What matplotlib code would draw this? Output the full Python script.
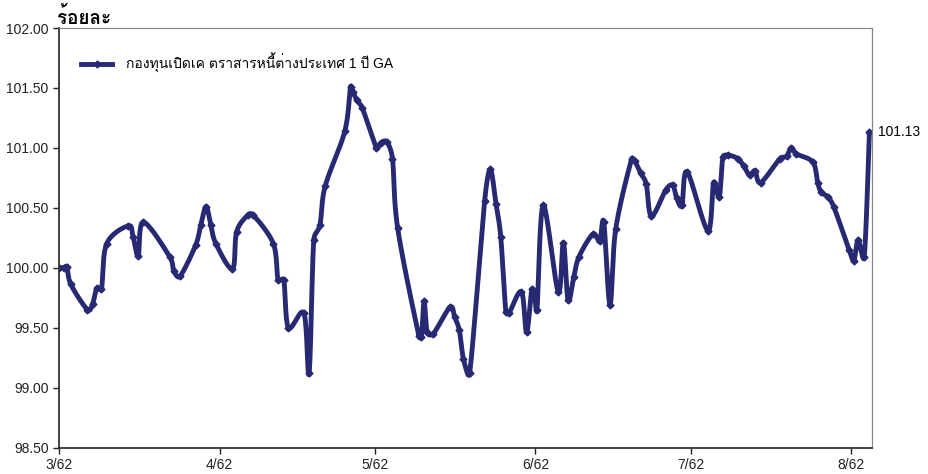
import numpy as np
import matplotlib
matplotlib.use('Agg')
from matplotlib import pyplot as plt
from matplotlib import font_manager
from matplotlib.ft2font import FT2Font
import matplotlib.dates as mdates
import datetime as dt

# ข้อมูล: วันที่นับจาก 1 มี.ค. 2562 (ค่าประมาณจากภาพ)
start = dt.datetime(2019, 3, 1)
day = [0.0, 1.0, 1.5, 2.3, 5.5, 6.5, 7.3, 8.2, 9.2, 13.4, 14.3, 15.3, 16.3,
       21.4, 22.2, 23.4, 26.4, 27.4, 28.4, 29.3, 30.3, 33.5, 34.3, 36.5, 37.5,
       41.4, 42.3, 43.4, 44.3, 47.3, 48.3, 49.2, 50.4, 51.4, 55.2, 56.3, 56.7,
       57.5, 58.6, 61.3, 62.1, 63.3, 64.4, 65.4, 69.5, 70.0, 70.5, 71.1, 72.3,
       75.5, 76.4, 77.3, 78.1, 79.3, 82.2, 83.3, 84.4, 85.3, 86.3, 86.9, 89.3,
       90.3, 91.3, 91.8, 92.3, 93.5, 96.4, 97.4, 98.3, 99.4, 100.4, 103.1,
       104.4, 105.2, 106.4, 107.5, 110.6, 111.2, 112.3, 113.4, 114.4, 117.2,
       118.5, 119.3, 120.3, 121.3, 125.3, 126.4, 127.5, 128.2, 129.2, 131.1,
       132.2, 133.4, 134.4, 135.5, 139.2, 140.5, 141.4, 142.4, 145.6, 146.5,
       147.2, 148.5, 149.6, 152.6, 153.5, 154.3, 155.5, 156.5]
nav = [100.00, 100.00, 100.01, 99.86, 99.65, 99.70, 99.83, 99.82, 100.20,
       100.35, 100.26, 100.10, 100.38, 100.09, 99.97, 99.93, 100.19, 100.36,
       100.51, 100.36, 100.20, 99.99, 100.30, 100.44, 100.44, 100.20, 99.90,
       99.90, 99.50, 99.62, 99.12, 100.23, 100.36, 100.68, 101.14, 101.51,
       101.47, 101.40, 101.33, 101.00, 101.04, 101.05, 100.91, 100.33, 99.43,
       99.42, 99.72, 99.46, 99.45, 99.67, 99.59, 99.48, 99.24, 99.12, 100.56,
       100.82, 100.53, 100.26, 99.63, 99.62, 99.80, 99.46, 99.82, 99.79,
       99.65, 100.52, 99.80, 100.21, 99.73, 99.92, 100.09, 100.28, 100.22,
       100.38, 99.69, 100.32, 100.91, 100.89, 100.79, 100.70, 100.43, 100.65,
       100.69, 100.58, 100.52, 100.80, 100.31, 100.71, 100.59, 100.92, 100.94,
       100.91, 100.85, 100.77, 100.81, 100.71, 100.91, 100.93, 101.00, 100.95,
       100.88, 100.71, 100.63, 100.59, 100.51, 100.15, 100.06, 100.23, 100.09,
       101.13]
series_name = 'กองทุนเปิดเค ตราสารหนี้ต่างประเทศ 1 ปี GA'
tick_dates = ['2019-03-01', '2019-04-01', '2019-05-01', '2019-06-01', '2019-07-01', '2019-08-01']
tick_labels = ['3/62', '4/62', '5/62', '6/62', '7/62', '8/62']
x_end_day = 157.0
y_min, y_max = 98.5, 102.0

color = '#272a72'

# หาฟอนต์ที่มีอักษรไทย
thai_font = None
for f in font_manager.fontManager.ttflist:
    try:
        if 0x0E01 in FT2Font(f.fname).get_charmap():
            thai_font = f.name
            break
    except Exception:
        pass
fams = ['Liberation Sans', 'DejaVu Sans']
if thai_font:
    fams = ['Liberation Sans', thai_font, 'DejaVu Sans']
plt.rcParams['font.family'] = fams

x0 = mdates.date2num(start)
x = x0 + np.array(day)
y = np.array(nav)

# ขนาดพื้นที่กราฟ (พิกเซล)
ax_w, ax_h = 872 - 59, 447.5 - 28
kx, ky = ax_w / x_end_day, ax_h / (y_max - y_min)

# เส้นโค้งแบบ Excel (Bezier) คำนวณในหน่วยพิกเซล, จำกัดความยาวแขนควบคุม
P = np.column_stack([(x - x0) * kx, (y - y_min) * ky])
Pe = np.vstack([P[0], P, P[-1]])
t = np.linspace(0, 1, 20)[:, None]
curve = []
for i in range(1, len(Pe) - 2):
    p0, p3 = Pe[i], Pe[i + 1]
    seg_len = np.hypot(*(p3 - p0))
    a1 = (p3 - Pe[i - 1]) / 6
    a2 = (Pe[i + 2] - p0) / 6
    for a in (a1, a2):
        n = np.hypot(*a)
        if n > 0.5 * seg_len and n > 0:
            a *= 0.5 * seg_len / n
    b1, b2 = p0 + a1, p3 - a2
    seg = ((1 - t) ** 3) * p0 + 3 * ((1 - t) ** 2) * t * b1 + 3 * (1 - t) * t ** 2 * b2 + t ** 3 * p3
    curve.append(seg)
curve = np.vstack(curve)
sx = x0 + curve[:, 0] / kx
sy = y_min + curve[:, 1] / ky

fig = plt.figure(figsize=(9.29, 4.74), dpi=100)
ax = fig.add_axes([59 / 929, 1 - 447.5 / 474, ax_w / 929, ax_h / 474])

ax.plot(sx, sy, color=color, lw=3.5, solid_capstyle='round', solid_joinstyle='round')
ax.plot(x, y, ls='none', marker='D', ms=3.5, color=color)
ax.plot([], [], color=color, lw=3.5, marker='D', ms=3.5, label=series_name)

ax.annotate(f'{nav[-1]:.2f}', (x[-1], y[-1]), xytext=(6, 0), textcoords='offset points',
            va='center', ha='left', fontsize=10)

ax.set_ylim(y_min, y_max)
ax.set_yticks(np.arange(y_min, y_max + 0.01, 0.5))
ax.set_yticklabels([f'{v:.2f}' for v in np.arange(y_min, y_max + 0.01, 0.5)])
ax.set_xlim(x0, x0 + x_end_day)
ax.set_xticks([mdates.date2num(dt.datetime.fromisoformat(d)) for d in tick_dates])
ax.set_xticklabels(tick_labels)
ax.tick_params(labelsize=10, length=4, width=1, colors='#222222')

for s in ['left', 'bottom']:
    ax.spines[s].set_color('#333333')
    ax.spines[s].set_linewidth(1.3)
for s in ['top', 'right']:
    ax.spines[s].set_color('#888888')
    ax.spines[s].set_linewidth(0.9)

ax.legend(loc='upper left', bbox_to_anchor=(0.012, 0.97), frameon=False, fontsize=10,
          handlelength=2.2, handletextpad=1.0)

fig.text(57 / 929, 1 - 17 / 474, 'ร้อยละ', fontsize=13.5, fontweight='bold', va='center', ha='left')

plt.savefig('out.png', dpi=100)
